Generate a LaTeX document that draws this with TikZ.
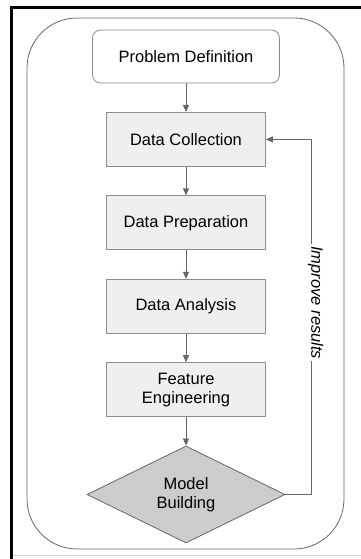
\documentclass[tikz,border=0pt]{standalone}
\usepackage{fontspec}
\setmainfont{Liberation Sans}
\usepackage{xcolor}
\usepackage{tikz}
\usetikzlibrary{shapes.geometric, arrows.meta, positioning}

\definecolor{linegray}{HTML}{666666}
\definecolor{boxline}{HTML}{8C8C8C}
\definecolor{boxfill}{HTML}{EFEFEF}
\definecolor{diafill}{HTML}{CCCCCC}

\begin{document}
\begin{tikzpicture}[
    x=1pt, y=1pt,
    node distance=28.6pt,
    txt/.style={font=\fontsize{16.5}{19}\selectfont, align=center},
    box/.style={rectangle, draw=boxline, line width=0.8pt, fill=boxfill, minimum width=159pt, minimum height=54pt, txt},
    startbox/.style={box, fill=white, rounded corners=8pt, minimum width=187pt, minimum height=53pt},
    decision/.style={diamond, draw=linegray, line width=0.8pt, fill=diafill, minimum width=198pt, minimum height=97pt, inner sep=0pt, txt},
    arr/.style={-{Triangle[length=7pt, width=6pt]}, draw=linegray, line width=0.8pt},
]
    \useasboundingbox (0,0) rectangle (361,559);

    % Screenshot frame
    \draw[line width=3pt] (10,551.5) -- (361,551.5);
    \draw[line width=3pt] (11.5,553) -- (11.5,0);
    \draw[gray!35, line width=1pt] (13,3) -- (361,3);

    % Outer container
    \draw[linegray, line width=0.8pt, rounded corners=50pt] (27,10) rectangle (344,541);

    % Steps
    \node[startbox] (problem) at (186,502.5) {Problem Definition};
    \node[box, below=of problem]  (collect) {Data Collection};
    \node[box, below=of collect]  (prepare) {Data Preparation};
    \node[box, below=of prepare]  (analyse) {Data Analysis};
    \node[box, below=of analyse]  (feature) {Feature\\Engineering};
    \node[decision, below=of feature] (model) {Model\\Building};

    % Arrows between steps
    \draw[arr] (problem) -- (collect);
    \draw[arr] (collect) -- (prepare);
    \draw[arr] (prepare) -- (analyse);
    \draw[arr] (analyse) -- (feature);
    \draw[arr] (feature) -- (model);

    % Feedback loop
    \draw[arr] (model.east) -- ++(26,0) |- node[pos=0.27, rotate=-90, anchor=base, fill=white, inner sep=2pt, txt, font=\fontsize{16.5}{19}\selectfont\itshape] (improve) {Improve results} (collect.east);
\end{tikzpicture}
\end{document}
